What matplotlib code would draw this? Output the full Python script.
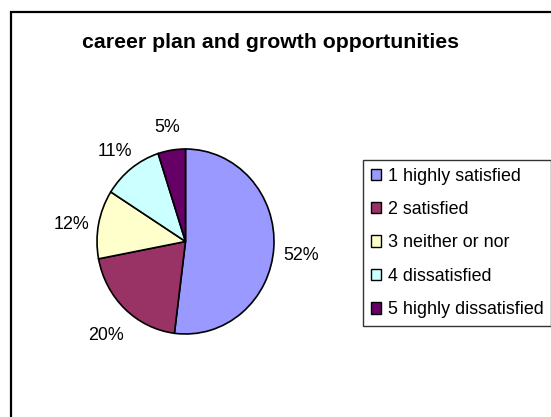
import matplotlib
matplotlib.use("Agg")
import matplotlib.pyplot as plt
from matplotlib.patches import Rectangle
from matplotlib.transforms import offset_copy

plt.rcParams["font.family"] = ["Liberation Sans", "DejaVu Sans"]

# Survey answers
categories = ["1 highly satisfied", "2 satisfied", "3 neither or nor",
              "4 dissatisfied", "5 highly dissatisfied"]
shares = [52, 20, 12, 11, 5]
colors = ["#9999FF", "#993366", "#FFFFCC", "#CCFFFF", "#660066"]

W, H = 551, 417
fig = plt.figure(figsize=(W / 100, H / 100), dpi=100)
fig.patch.set_facecolor("white")

# chart area border (runs off the right and bottom edge)
fig.patches.append(Rectangle((10.5 / W, -0.2), 1.2, 1.2 - 11.5 / H,
                             transform=fig.transFigure, fill=False,
                             edgecolor="black", linewidth=1.6))

# pie axes, centred at (185, 241) px, slightly taller than wide
cx, cy = 185.5, 241.5
rx, ry = 88.5, 92.5
aw, ah = 300, 260
ax = fig.add_axes([(cx - aw / 2) / W, (H - cy - ah / 2) / H, aw / W, ah / H])
wedges, texts = ax.pie(shares, colors=colors, startangle=90, counterclock=False,
                       labels=[f"{v}%" for v in shares], labeldistance=1.31,
                       wedgeprops=dict(edgecolor="black", linewidth=1.2),
                       textprops=dict(fontsize=12.9))
# labels sit centred on their spot, nudged a little down
for t in texts:
    t.set_ha("center")
    t.set_transform(offset_copy(ax.transData, fig=fig, x=0, y=-6, units="dots"))
ax.set_aspect("auto")
ax.set_xlim(-aw / 2 / rx, aw / 2 / rx)
ax.set_ylim(-ah / 2 / ry, ah / 2 / ry)
ax.axis("off")

fig.text(270 / W, 1 - 43 / H, "career plan and growth opportunities",
         ha="center", va="center", fontsize=15.3, fontweight="bold")

leg = fig.legend(wedges, categories, loc="upper left",
                 bbox_to_anchor=(363 / W, 1 - 160 / H), fontsize=12.9,
                 frameon=True, fancybox=False, edgecolor="black",
                 handlelength=0.6, handleheight=0.6, handletextpad=0.35,
                 labelspacing=0.92, borderpad=0.42, borderaxespad=0)
leg.get_frame().set_linewidth(1.0)
for h in leg.legend_handles:
    h.set_linewidth(1.0)

fig.savefig("out.png", dpi=100, facecolor="white")
